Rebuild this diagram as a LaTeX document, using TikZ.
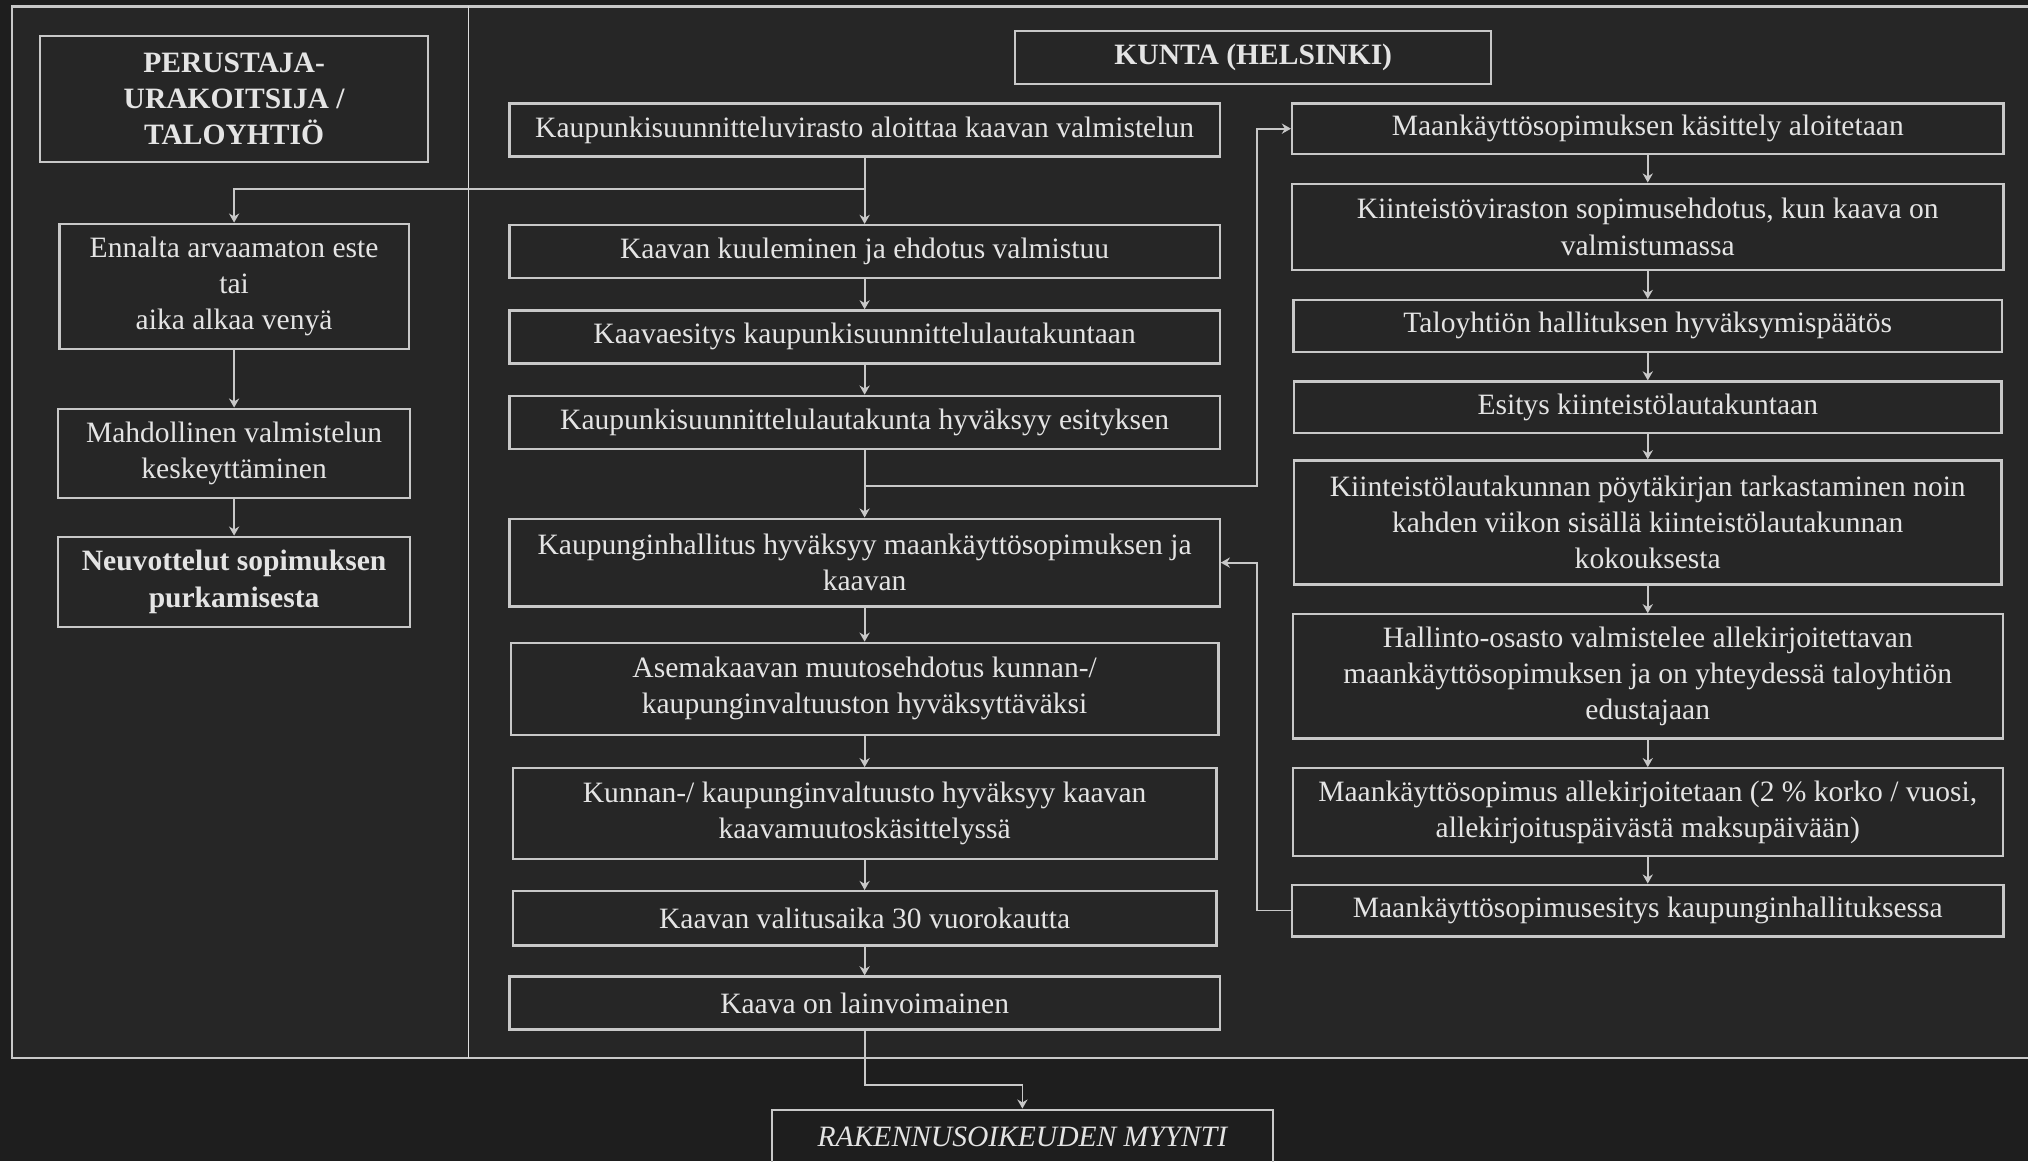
\documentclass[tikz,border=0pt]{standalone}
\usepackage{fontspec}
\setmainfont{Liberation Serif}
\usetikzlibrary{arrows.meta, positioning}
\definecolor{bgin}{HTML}{262626}
\definecolor{bgout}{HTML}{1E1E1E}
\definecolor{linegray}{HTML}{C8C8C8}
\definecolor{textgray}{HTML}{E4E4E4}

\begin{document}
\begin{tikzpicture}[x=0.02cm, y=-0.02cm, >={Stealth[length=4pt,width=4.5pt]},
  boxsize/.style 2 args={minimum width=#1*0.02cm, minimum height=#2*0.02cm},
  box/.style={draw=linegray, line width=1pt, inner sep=0pt, align=center, text=textgray,
    font=\fontsize{13}{16}\selectfont},
  headbox/.style={box, font=\fontsize{13}{16}\selectfont\bfseries},
  arr/.style={->, draw=linegray, line width=0.8pt}]
% Background and frame
\useasboundingbox (0,0) rectangle (1568,898);
\fill[bgout] (0,0) rectangle (1568,898);
\fill[bgin] (9,5) rectangle (1575,818);
\draw[linegray, line width=1pt] (1575,5) -- (9,5) -- (9,818) -- (1575,818);
\draw[linegray!60, line width=0.6pt] (362,5) -- (362,818);
% Left column
\node[headbox, boxsize={300}{97}] (perus) at (181,76.5) {PERUSTAJA-\\URAKOITSIJA /\\TALOYHTIÖ};
\node[box, boxsize={270}{97}] (este) at (181,221.5) {Ennalta arvaamaton este\\tai\\aika alkaa venyä};
\node[box, boxsize={272}{69}] (keskeytys) at (181,350.5) {Mahdollinen valmistelun\\keskeyttäminen};
\node[headbox, boxsize={272}{70}] (purku) at (181,450) {Neuvottelut sopimuksen\\purkamisesta};
% Center column
\node[headbox, boxsize={368}{41}] (kunta) at (969,44.5) {KUNTA (HELSINKI)};
\node[box, boxsize={549}{41}] (ksv) at (668.5,100.5) {Kaupunkisuunnitteluvirasto aloittaa kaavan valmistelun};
\node[box, boxsize={549}{41}] (kuul) at (668.5,194.5) {Kaavan kuuleminen ja ehdotus valmistuu};
\node[box, boxsize={549}{41}] (esit) at (668.5,260.5) {Kaavaesitys kaupunkisuunnittelulautakuntaan};
\node[box, boxsize={549}{41}] (ksl) at (668.5,326.5) {Kaupunkisuunnittelulautakunta hyväksyy esityksen};
\node[box, boxsize={549}{68}] (kh) at (668.5,435) {Kaupunginhallitus hyväksyy maankäyttösopimuksen ja\\kaavan};
\node[box, boxsize={547}{71}] (asema) at (668.5,532.5) {Asemakaavan muutosehdotus kunnan-/\\kaupunginvaltuuston hyväksyttäväksi};
\node[box, boxsize={544}{70}] (valt) at (668.5,629) {Kunnan-/ kaupunginvaltuusto hyväksyy kaavan\\kaavamuutoskäsittelyssä};
\node[box, boxsize={544}{42}] (valit) at (668.5,710) {Kaavan valitusaika 30 vuorokautta};
\node[box, boxsize={549}{41}] (lainv) at (668.5,775.5) {Kaava on lainvoimainen};
\node[box, boxsize={387}{42}, font=\fontsize{13}{16}\selectfont\itshape] (myynti) at (790.5,879) {RAKENNUSOIKEUDEN MYYNTI};
% Right column
\node[box, boxsize={550}{39}] (mks) at (1274,99.5) {Maankäyttösopimuksen käsittely aloitetaan};
\node[box, boxsize={550}{67}] (kv) at (1274,175.5) {Kiinteistöviraston sopimusehdotus, kun kaava on\\valmistumassa};
\node[box, boxsize={548}{40}] (tal) at (1274,252) {Taloyhtiön hallituksen hyväksymispäätös};
\node[box, boxsize={547}{40}] (esky) at (1274,315) {Esitys kiinteistölautakuntaan};
\node[box, boxsize={547}{96}] (ptk) at (1274,404) {Kiinteistölautakunnan pöytäkirjan tarkastaminen noin\\kahden viikon sisällä kiinteistölautakunnan\\kokouksesta};
\node[box, boxsize={549}{96}] (hall) at (1274,523) {Hallinto-osasto valmistelee allekirjoitettavan\\maankäyttösopimuksen ja on yhteydessä taloyhtiön\\edustajaan};
\node[box, boxsize={549}{68}] (allek) at (1274,628) {Maankäyttösopimus allekirjoitetaan (2 \% korko / vuosi,\\allekirjoituspäivästä maksupäivään)};
\node[box, boxsize={550}{40}] (mkesit) at (1274,704) {Maankäyttösopimusesitys kaupunginhallituksessa};
% Bend points
\coordinate (split1) at (668.5,146);
\coordinate (split2) at (668.5,376);
\coordinate (bend1) at (972,376);
\coordinate (bend2) at (972,704);
% Connectors
\draw[arr] (ksv) -- (kuul);
\draw[arr] (split1) -| (este);
\draw[arr] (este) -- (keskeytys);
\draw[arr] (keskeytys) -- (purku);
\draw[arr] (kuul) -- (esit);
\draw[arr] (esit) -- (ksl);
\draw[arr] (ksl) -- (kh);
\draw[arr] (split2) -- (bend1) |- (mks.west);
\draw[arr] (kh) -- (asema);
\draw[arr] (asema) -- (valt);
\draw[arr] (valt) -- (valit);
\draw[arr] (valit) -- (lainv);
\draw[arr] (lainv.south) -- ++(0,42) -| (myynti.north);
\draw[arr] (mks) -- (kv);
\draw[arr] (kv) -- (tal);
\draw[arr] (tal) -- (esky);
\draw[arr] (esky) -- (ptk);
\draw[arr] (ptk) -- (hall);
\draw[arr] (hall) -- (allek);
\draw[arr] (allek) -- (mkesit);
\draw[arr] (mkesit.west) -- (bend2) |- (kh.east);
\end{tikzpicture}
\end{document}
